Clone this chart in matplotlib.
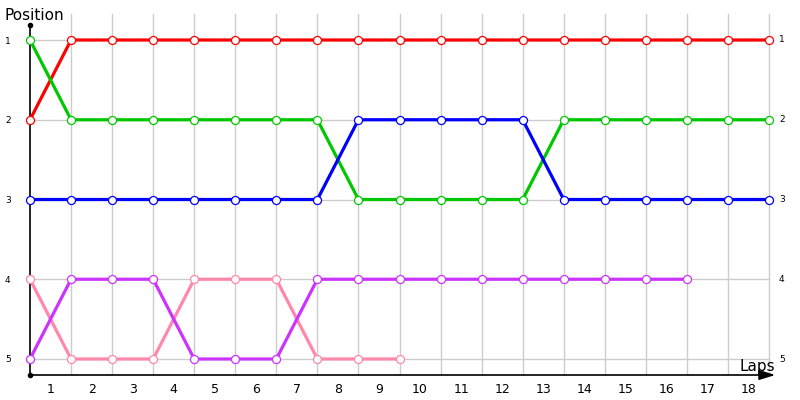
import matplotlib
matplotlib.use("Agg")
from matplotlib import pyplot as plt

laps = list(range(1, 19))
lap_labels = [str(n) for n in laps]
positions = [1, 2, 3, 4, 5]

# position of each driver after lap n (index 0 = start)
red = [2] + [1] * 18
green = [1] + [2] * 7 + [3] * 5 + [2] * 6
blue = [3] * 8 + [2] * 5 + [3] * 6
pink = [4, 5, 5, 5, 4, 4, 4, 5, 5, 5]
purple = [5, 4, 4, 4, 5, 5, 5] + [4] * 10

series = [
    (red, "#ff0000"),
    (green, "#00c800"),
    (blue, "#0000ff"),
    (pink, "#ff88aa"),
    (purple, "#cc33ff"),
]

W, H = 800, 400
fig = plt.figure(figsize=(8, 4), dpi=100)

# pixel layout
x0px, x18px = 30, 769
y1px, y5px = 40, 359
left_px, right_px = 30, 790
top_px, bot_px = 14, 375
sx = (x18px - x0px) / 18.0
sy = (y5px - y1px) / 4.0
xmin = (left_px - x0px) / sx
xmax = (right_px - x0px) / sx
ymin = 1 - (y1px - top_px) / sy
ymax = 5 + (bot_px - y5px) / sy

ax = fig.add_axes([left_px / W, 1 - bot_px / H, (right_px - left_px) / W, (bot_px - top_px) / H])
ax.set_xlim(xmin, xmax)
ax.set_ylim(ymax, ymin)
for s in ax.spines.values():
    s.set_visible(False)
ax.patch.set_alpha(0)

# grid
grid_c = "#cccccc"
for i in laps:
    ax.plot([i, i], [ymin, ymax], color=grid_c, lw=1, zorder=1, clip_on=False)
for p in positions:
    ax.plot([0, 18], [p, p], color=grid_c, lw=1, zorder=1)

# axes lines
ax.plot([0, 0], [1 - 15 / sy, ymax], color="black", lw=1.2, zorder=2, clip_on=False)
ax.plot([0], [1 - 15 / sy], "o", color="black", ms=3, zorder=2, clip_on=False)
ax.plot([0], [ymax], "o", color="black", ms=3, zorder=2, clip_on=False)
ax.annotate("", xy=(18 + 9 / sx, ymax), xytext=(0, ymax),
            arrowprops=dict(arrowstyle="-|>,head_length=0.8,head_width=0.25",
                            color="black", lw=1.2, mutation_scale=12),
            annotation_clip=False, zorder=2)

for vals, c in series:
    ax.plot(range(len(vals)), vals, "-o", color=c, lw=2.3, ms=5.8,
            markerfacecolor="white", markeredgecolor=c, markeredgewidth=0.9,
            zorder=3, clip_on=False)

# ticks
ax.set_xticks([i - 0.5 for i in laps])
ax.set_xticklabels(lap_labels, fontsize=9)
ax.set_yticks(positions)
ax.set_yticklabels([str(p) for p in positions], fontsize=6.5)
ax.tick_params(axis="x", length=0, pad=6)
ax.tick_params(axis="y", length=0, pad=14)
for p in positions:
    ax.text(18 + 10 / sx, p, str(p), fontsize=6.5, va="center", ha="left")

fig.text(4 / W, 1 - 15 / H, "Position", fontsize=11, va="center", ha="left")
fig.text(775 / W, 1 - 367 / H, "Laps", fontsize=11, va="center", ha="right")

fig.savefig("out.png", dpi=100)
